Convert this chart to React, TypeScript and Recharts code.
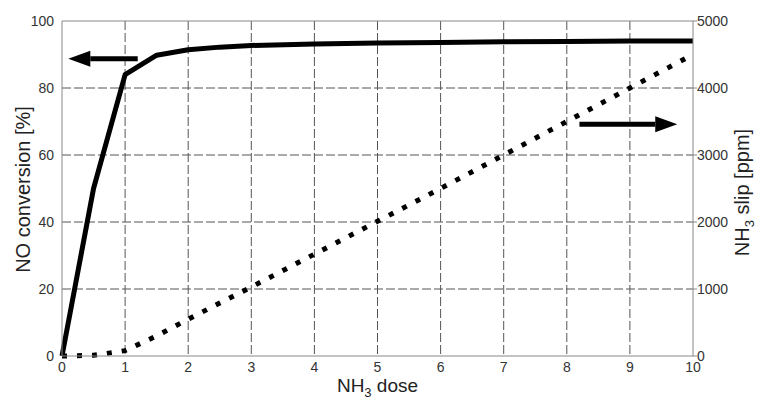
import {
    LineChart,
    Line,
    CartesianGrid,
    XAxis,
    YAxis,
    ReferenceLine,
    Label,
} from "recharts"

const dose = [0, 0.5, 1, 1.5, 2, 2.5, 3, 4, 5, 6, 7, 8, 9, 10];
const noConversion = [0, 50, 84, 89.8, 91.4, 92.2, 92.7, 93.1, 93.4, 93.6, 93.8, 93.9, 94, 94];
const nh3Slip = [0, 10, 80, 300, 550, 790, 1030, 1520, 2010, 2500, 3000, 3500, 4000, 4500];
const xTicks = [0, 1, 2, 3, 4, 5, 6, 7, 8, 9, 10];
const leftTicks = [0, 20, 40, 60, 80, 100];
const rightTicks = [0, 1000, 2000, 3000, 4000, 5000];

const data = dose.map((d, i) => ({ dose: d, conv: noConversion[i], slip: nh3Slip[i] }));

const FONT = "'Liberation Sans', Arial, sans-serif";
const TICK = { fontSize: 14, fill: "#333", fontFamily: FONT };

type ArrowProps = { x1?: number, y1?: number, x2?: number, y2?: number };

// line from x1 to x2, arrow head at x2
const Arrow = (props: ArrowProps) => {
    const { x1 = 0, y1 = 0, x2 = 0, y2 = 0 } = props;
    const dir = x2 > x1 ? 1 : -1;
    const base = x2 - dir * 22;
    return (
        <g>
            <line x1={x1} y1={y1} x2={base} y2={y2} stroke="#000" strokeWidth={5} />
            <polygon points={`${x2},${y2} ${base},${y2 - 8} ${base},${y2 + 8}`} fill="#000" />
        </g>
    );
};

const LeftTitle = (props: any) => {
    const { viewBox } = props;
    const cx = 30;
    const cy = viewBox.y + viewBox.height / 2 + 1;
    return (
        <text x={cx} y={cy} transform={`rotate(-90 ${cx} ${cy})`} textAnchor="middle"
            fontSize={20} fill="#222" fontFamily={FONT}>NO conversion [%]</text>
    );
};

const RightTitle = (props: any) => {
    const { viewBox } = props;
    const cx = 749;
    const cy = viewBox.y + viewBox.height / 2 + 4;
    return (
        <text x={cx} y={cy} transform={`rotate(-90 ${cx} ${cy})`} textAnchor="middle"
            fontSize={20} fill="#222" fontFamily={FONT}>
            NH<tspan fontSize={13} dy={5}>3</tspan><tspan dy={-5}> slip [ppm]</tspan>
        </text>
    );
};

const BottomTitle = (props: any) => {
    const { viewBox } = props;
    const cx = viewBox.x + viewBox.width / 2;
    return (
        <text x={cx} y={392} textAnchor="middle" fontSize={19} fill="#222" fontFamily={FONT}>
            NH<tspan fontSize={13} dy={5}>3</tspan><tspan dy={-5}> dose</tspan>
        </text>
    );
};

export default function App() {
    return (
        <div style={{ position: "absolute", left: 0, top: 0, background: "#fff" }}>
            <LineChart width={759} height={400} data={data}
                margin={{ top: 21, right: 0, bottom: 0, left: 0 }}>
                <CartesianGrid stroke="#555" strokeDasharray="9 3" strokeWidth={1}
                    horizontalValues={[20, 40, 60, 80]} verticalValues={[1, 2, 3, 4, 5, 6, 7, 8, 9]} yAxisId="left" />
                <XAxis dataKey="dose" type="number" domain={[0, 10]} ticks={xTicks} height={44}
                    stroke="#888" tickLine={false} tick={TICK} tickMargin={0} interval={0}>
                    <Label content={BottomTitle} />
                </XAxis>
                <YAxis yAxisId="left" domain={[0, 100]} ticks={leftTicks} width={62}
                    stroke="#888" tickLine={false} tick={TICK} tickMargin={2} interval={0}>
                    <Label content={LeftTitle} />
                </YAxis>
                <YAxis yAxisId="right" orientation="right" domain={[0, 5000]} ticks={rightTicks} width={66}
                    stroke="#888" tickSize={4} tick={TICK} tickMargin={0} interval={0}>
                    <Label content={RightTitle} />
                </YAxis>
                <ReferenceLine yAxisId="left" y={100} stroke="#888" strokeWidth={1} />
                <Line yAxisId="left" dataKey="conv" stroke="#000" strokeWidth={5} dot={false}
                    type="linear" isAnimationActive={false} strokeLinejoin="round" />
                <Line yAxisId="right" dataKey="slip" stroke="#000" strokeWidth={5} dot={false}
                    type="linear" strokeDasharray="5 10" isAnimationActive={false} />
                <ReferenceLine yAxisId="left" segment={[{ x: 1.2, y: 88.7 }, { x: 0.1, y: 88.7 }]}
                    shape={Arrow} />
                <ReferenceLine yAxisId="right" segment={[{ x: 8.2, y: 3460 }, { x: 9.75, y: 3460 }]}
                    shape={Arrow} />
            </LineChart>
        </div>
    )
}
